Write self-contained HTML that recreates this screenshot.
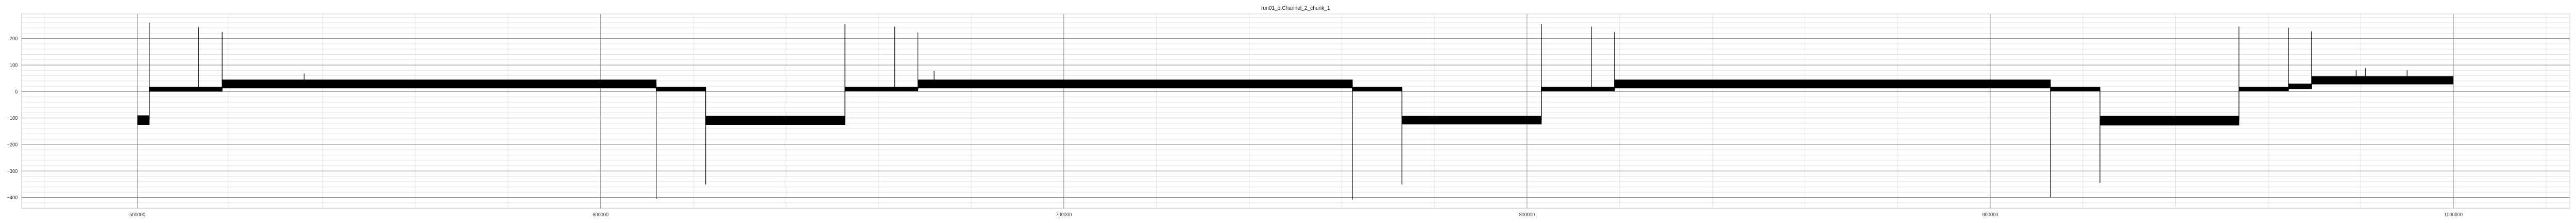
<!DOCTYPE html>
<html><head><meta charset="utf-8"><style>
html,body{margin:0;padding:0;background:#fff;width:100%;height:100%;overflow:hidden;}
svg{display:block;position:absolute;left:0;top:0;width:100vw;height:100vh;font-family:"Liberation Sans","DejaVu Sans",sans-serif;}
</style></head><body>
<svg id="chart" viewBox="0 0 5400 432" preserveAspectRatio="none" xmlns="http://www.w3.org/2000/svg">
<text x="2716" y="19" font-size="11" fill="#222" text-anchor="middle">run01_d.Channel_2_chunk_1</text>
<g id="grid"></g>
<g id="marks"></g>
<g id="labels"></g>
<rect x="45" y="27" width="5342" height="377" fill="none" stroke="#cfcfcf" stroke-width="1"/>
</svg>
<script>
// ---- data ----
const segStart = [500000, 502560, 518300, 612000, 622700, 652750, 668500, 762300, 773000, 803100, 818900, 913000, 923700, 953700, 964400, 969400];
const segEnd   = [502560, 518300, 612000, 622700, 652750, 668500, 762300, 773000, 803100, 818900, 913000, 923700, 953700, 964400, 969400, 1000000];
const segLow   = [-126, 0, 12, 2, -126, 2, 12, 2, -124, 2, 12, 2, -128, 2, 9, 27];
const segHigh  = [-90, 18, 45, 18, -92, 18, 45, 18, -92, 18, 45, 18, -92, 18, 30, 58];
const spikeX   = [502560, 513200, 518300, 612000, 622700, 652750, 663500, 668500, 762300, 773000, 803100, 813900, 818900, 913000, 923700, 953700, 964400, 969400, 536000, 672000, 979000, 981000, 990000];
const spikeVal = [260, 243, 225, -405, -351, 254, 245, 223, -408, -351, 254, 245, 224, -399, -345, 245, 241, 227, 68, 78, 80, 88, 80];
const xTicks = [500000, 600000, 700000, 800000, 900000, 1000000];
const yTicks = [-400, -300, -200, -100, 0, 100, 200];

// ---- scales ----
const X0 = 45, X1 = 5387, Y0 = 27, Y1 = 404;
function sx(v){ return 288 + (v - 500000) * 0.00971; }
function sy(v){ return 177.3 - v * 0.5133; }
const NS = "http://www.w3.org/2000/svg";
function mk(tag, attrs, parent){
  const e = document.createElementNS(NS, tag);
  for (const k in attrs) e.setAttribute(k, attrs[k]);
  parent.appendChild(e);
  return e;
}
const grid = document.getElementById('grid');
const marks = document.getElementById('marks');
const labels = document.getElementById('labels');

for (let v = 480000; v <= 1020000; v += 20000) {
  if (v % 100000 === 0) continue;
  const l = mk('line', {x1: sx(v), x2: sx(v), y1: Y0, y2: Y1, stroke: '#e3e3e3', 'stroke-width': 1}, grid);
  
  
}
for (let v = -440; v <= 280; v += 20) {
  if (v % 100 === 0) continue;
  const l = mk('line', {x1: X0, x2: X1, y1: sy(v), y2: sy(v), stroke: '#e3e3e3', 'stroke-width': 1}, grid);
  
  
}
xTicks.forEach(v => {
  const l = mk('line', {x1: sx(v), x2: sx(v), y1: Y0, y2: Y1, stroke: '#808080', 'stroke-width': 1}, grid);
  
  
  const t = mk('text', {x: sx(v), y: 419, 'font-size': 10, fill: '#333', 'text-anchor': 'middle'}, labels);
  t.textContent = String(v);
  
  
});
yTicks.forEach(v => {
  const l = mk('line', {x1: X0, x2: X1, y1: sy(v), y2: sy(v), stroke: '#808080', 'stroke-width': 1}, grid);
  
  
  const t = mk('text', {x: 37, y: sy(v) + 3.5, 'font-size': 10, fill: '#333', 'text-anchor': 'end'}, labels);
  t.textContent = v < 0 ? '\u2212' + Math.abs(v) : String(v);
  
  
});

for (let i = 0; i < segStart.length; i++) {
  const r = mk('rect', {x: sx(segStart[i]), y: sy(segHigh[i]), width: Math.max(1, sx(segEnd[i]) - sx(segStart[i])), height: sy(segLow[i]) - sy(segHigh[i]), fill: '#000'}, marks);
  
  
  if (i > 0) {
    const xm = sx(segStart[i]);
    const a = Math.min(segLow[i-1], segLow[i]), b = Math.max(segHigh[i-1], segHigh[i]);
    const c = mk('line', {x1: xm, x2: xm, y1: sy(a), y2: sy(b), stroke: '#000', 'stroke-width': 1.2}, marks);
    
    
  }
}
function levelAt(x){
  for (let i = 0; i < segStart.length; i++) if (x >= segStart[i] && x <= segEnd[i]) return (segLow[i] + segHigh[i]) / 2;
  return 0;
}
for (let i = 0; i < spikeX.length; i++) {
  const base = levelAt(spikeX[i]);
  const s = mk('line', {x1: sx(spikeX[i]), x2: sx(spikeX[i]), y1: sy(base), y2: sy(spikeVal[i]), stroke: '#000', 'stroke-width': 1.3}, marks);
  
  
}
</script>
</body></html>
